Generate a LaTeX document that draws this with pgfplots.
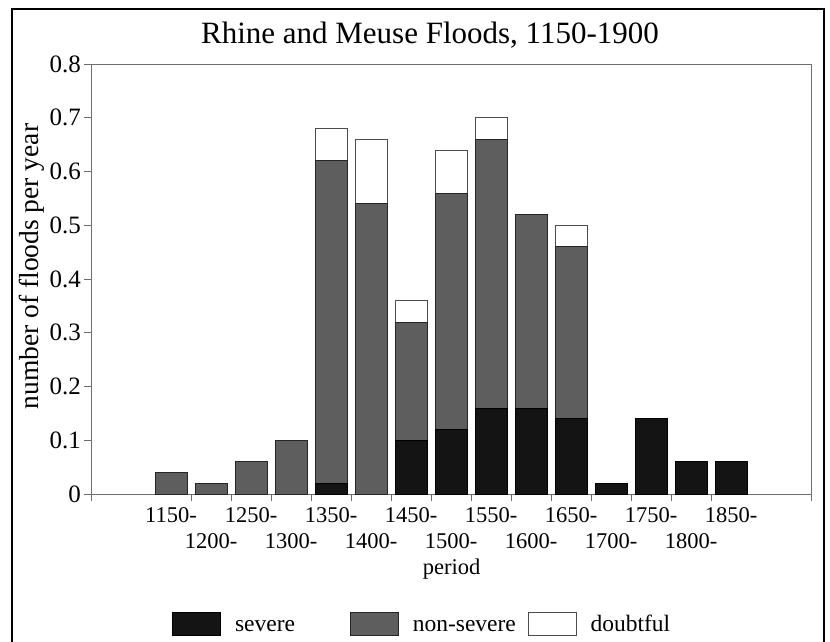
\documentclass[border=0pt]{standalone}
\usepackage{pgfplots}
\pgfplotsset{compat=1.18}
\usepackage{pgfplotstable}
\usepackage{fontspec}
\setmainfont{Liberation Serif}
\definecolor{sev}{HTML}{141414}
\definecolor{nons}{HTML}{5E5E5E}
\definecolor{axgray}{HTML}{6E6E6E}
\pgfplotsset{boxleg/.style={legend image code/.code={\draw[##1] (0pt,-11.5pt) rectangle (48pt,11.5pt);}}}
\pgfplotstableread{
idx sev non dou
0 0 0.04 0
1 0 0.02 0
2 0 0.06 0
3 0 0.10 0
4 0.02 0.60 0.06
5 0 0.54 0.12
6 0.10 0.22 0.04
7 0.12 0.44 0.08
8 0.16 0.50 0.04
9 0.16 0.36 0
10 0.14 0.32 0.04
11 0.02 0 0
12 0.14 0 0
13 0.06 0 0
14 0.06 0 0
}\floods
\begin{document}
\begin{tikzpicture}
\useasboundingbox (0pt,0pt) rectangle (830pt,641pt);
\draw[line width=1.5pt] (12pt,-5pt) -- (12pt,632pt) -- (824pt,632pt) -- (824pt,-5pt);
\begin{axis}[
  at={(91pt,147pt)}, anchor=south west,
  scale only axis, width=720pt, height=430pt,
  xmin=-2, xmax=16, ymin=0, ymax=0.8,
  ybar stacked, bar width=32pt,
  axis line style={axgray, line width=0.9pt},
  tick align=outside, major tick length=7pt,
  xtick pos=bottom, ytick pos=left,
  tick style={axgray, line width=0.9pt},
  xtick={0,1,2,3,4,5,6,7,8,9,10,11,12,13,14},
  xticklabels={1150-,\raisebox{-26pt}{1200-},1250-,\raisebox{-26pt}{1300-},1350-,\raisebox{-26pt}{1400-},1450-,\raisebox{-26pt}{1500-},1550-,\raisebox{-26pt}{1600-},1650-,\raisebox{-26pt}{1700-},1750-,\raisebox{-26pt}{1800-},1850-},
  x tick style={draw=none},
  extra x ticks={-2,0.5,1.5,2.5,3.5,4.5,5.5,6.5,7.5,8.5,9.5,10.5,11.5,12.5,13.5,16},
  extra x tick labels={},
  extra x tick style={x tick style={draw=axgray, line width=0.9pt}},
  ytick={0,0.1,0.2,0.3,0.4,0.5,0.6,0.7,0.8},
  yticklabels={0,0.1,0.2,0.3,0.4,0.5,0.6,0.7,0.8},
  yticklabel style={font=\fontsize{25pt}{30pt}\selectfont, anchor=east, inner sep=0pt, xshift=-3pt},
  xticklabel style={font=\fontsize{22.5pt}{26pt}\selectfont, anchor=base, inner sep=0pt, yshift=-21pt},
  title={Rhine and Meuse Floods, 1150-1900},
  title style={font=\fontsize{31pt}{36pt}\selectfont, at={(axis description cs:0.4708,1)}, anchor=base, yshift=15pt, inner sep=0pt},
  xlabel={period},
  xlabel style={font=\fontsize{22.5pt}{28pt}\selectfont, at={(axis description cs:0.501,0)}, anchor=base, yshift=-80pt, inner sep=0pt},
  ylabel={number of floods per year},
  ylabel style={font=\fontsize{27.5pt}{32pt}\selectfont, at={(axis description cs:-0.073,0.529)}, anchor=base, inner sep=0pt},
  legend style={at={(0.1125,-0.3012)}, anchor=west, draw=none, fill=none, inner sep=0pt,
    font=\fontsize{23.5pt}{28pt}\selectfont,
    nodes={text height=19pt, text depth=3pt},
    /tikz/every odd column/.append style={column sep=12pt},
    /tikz/every even column/.append style={column sep=0pt}},
  legend columns=3, legend cell align=left,
]
\addplot[fill=sev, draw=black, line width=0.8pt, boxleg]
  table[x=idx,y=sev]{\floods};
\addlegendentry{\makebox[113pt][l]{severe}}
\addplot[fill=nons, draw=black!85, line width=0.8pt, boxleg]
  table[x=idx,y=non]{\floods};
\addlegendentry{\makebox[113pt][l]{non-severe}}
\addplot[fill=white, draw=black!70, line width=0.8pt, boxleg]
  table[x=idx,y=dou]{\floods};
\addlegendentry{doubtful}
\end{axis}
\end{tikzpicture}
\end{document}
